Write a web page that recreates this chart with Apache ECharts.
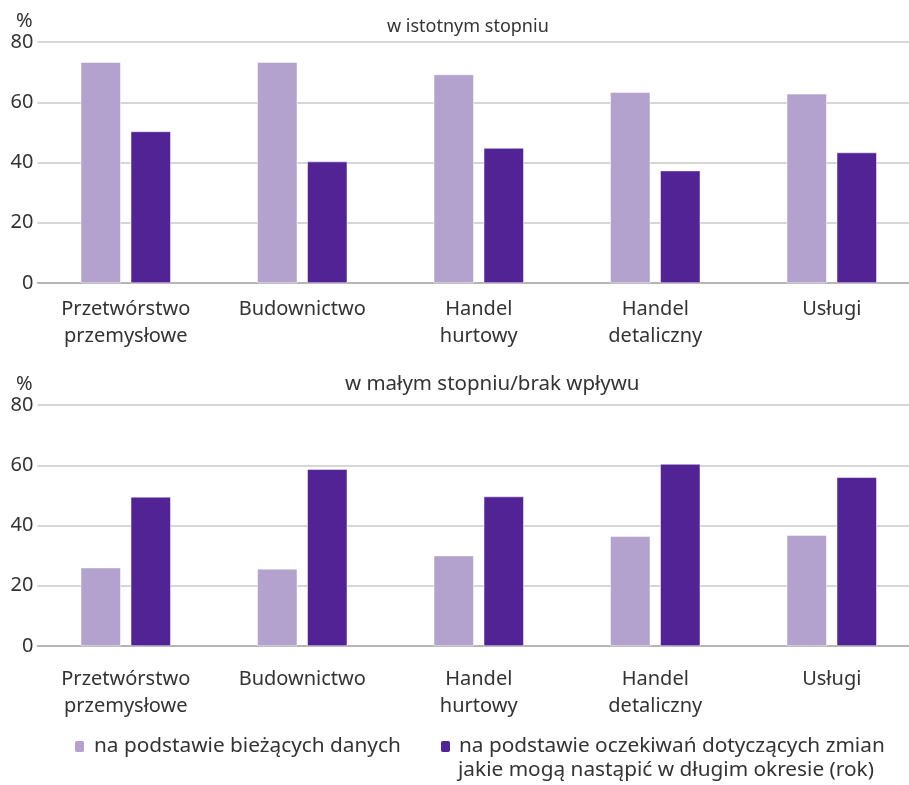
<!DOCTYPE html>
<html><head><meta charset="utf-8">
<script src="https://cdn.jsdelivr.net/npm/echarts@6/dist/echarts.min.js"></script>
<style>html,body{margin:0;padding:0;background:#fff}#c{width:909px;height:785px}</style>
</head><body><div id="c"></div>
<script>
const categories = ['Przetwórstwo\nprzemysłowe', 'Budownictwo', 'Handel\nhurtowy', 'Handel\ndetaliczny', 'Usługi'];
const seriesNames = ['na podstawie bieżących danych', 'na podstawie oczekiwań dotyczących zmian'];
const legendLine2 = 'jakie mogą nastąpić w długim okresie (rok)';
const panelTitles = ['w istotnym stopniu', 'w małym stopniu/brak wpływu'];
const topCurrent = [73.3, 73.3, 69.2, 63.3, 62.8];
const topExpected = [50.3, 40.3, 44.8, 37.3, 43.3];
const bottomCurrent = [26.0, 25.6, 30.0, 36.4, 36.8];
const bottomExpected = [49.5, 58.7, 49.6, 60.4, 56.0];
const yTicks = [0, 20, 40, 60, 80];

const FONT = 'Noto Sans';
const TXT = '#333333';
const LIGHT = '#b3a2cd';
const DARK = '#522394';

const chart = echarts.init(document.getElementById('c'));
const grids = [
  {left: 37.5, right: -11, top: 42, height: 241, outerBoundsMode: 'none', containLabel: false},
  {left: 37.5, right: -11, top: 405, height: 241, outerBoundsMode: 'none', containLabel: false}
];
function xAx(i, margin){return {type:'category', gridIndex:i, data:categories,
  axisTick:{show:false}, axisLine:{lineStyle:{color:'#aaaaaa', width:1.5}},
  axisLabel:{color:TXT, fontFamily:FONT, fontSize:20, lineHeight:27, margin, interval:0}};}
function yAx(i){return {type:'value', gridIndex:i, min:yTicks[0], max:yTicks[yTicks.length-1], interval:20,
  name:'%', nameLocation:'end', nameGap:11, nameTextStyle:{color:TXT, fontFamily:FONT, fontSize:20, align:'right', padding:[0,5,0,0]},
  axisLine:{show:false}, axisTick:{show:false},
  splitLine:{lineStyle:{color:'#c8c8c8', width:1.5}},
  axisLabel:{color:TXT, fontFamily:FONT, fontSize:20, margin:4}};}
function bar(name, data, i, color){return {name, type:'bar', xAxisIndex:i, yAxisIndex:i, data,
  barWidth:40, barGap:'25%', itemStyle:{color, borderColor:'#ffffff', borderWidth:0.5}, silent:true};}

chart.setOption({
  animation:false,
  textStyle:{fontFamily:FONT},
  grid: grids,
  xAxis:[xAx(0, 13), xAx(1, 20)],
  yAxis:[yAx(0), yAx(1)],
  legend:[
    {data:[seriesNames[0]], left:73, top:736, padding:0, itemWidth:11, itemHeight:13,
      textStyle:{color:TXT, fontFamily:FONT, fontSize:20.8, padding:[0,0,0,4]}, selectedMode:false},
    {data:[seriesNames[1]], left:439, top:736, padding:0, itemWidth:11, itemHeight:13,
      textStyle:{color:TXT, fontFamily:FONT, fontSize:20.8, padding:[0,0,0,3]}, selectedMode:false}
  ],
  graphic:[
    {type:'text', left:387, top:18, style:{text:panelTitles[0], fill:TXT, font:'18px "Noto Sans"'}},
    {type:'text', left:345, top:374, style:{text:panelTitles[1], fill:TXT, font:'20.5px "Noto Sans"'}},
    {type:'text', left:458, top:760, style:{text:legendLine2, fill:TXT, font:'20.8px "Noto Sans"'}}
  ],
  series:[
    bar(seriesNames[0], topCurrent, 0, LIGHT),
    bar(seriesNames[1], topExpected, 0, DARK),
    bar(seriesNames[0], bottomCurrent, 1, LIGHT),
    bar(seriesNames[1], bottomExpected, 1, DARK)
  ]
});
</script></body></html>
